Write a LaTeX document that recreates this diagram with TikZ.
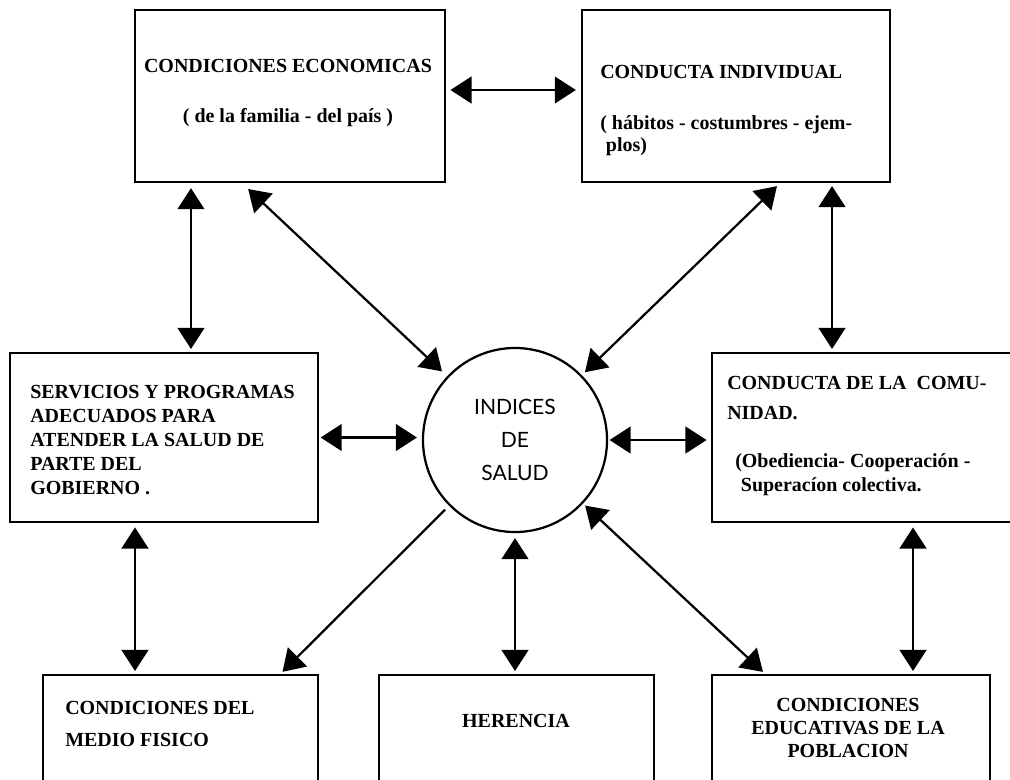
\documentclass[tikz,border=0pt]{standalone}
\usepackage{fontspec}
\setmainfont{Liberation Serif}
\newfontfamily\roundfont{Lato}
\usetikzlibrary{arrows.meta}

\tikzset{
  boxnode/.style={draw, rectangle, line width=1.7pt, inner sep=0pt},
  boxtext/.style={inner sep=0pt, align=left, font=\bfseries\fontsize{14.2}{17}\selectfont},
  twoway/.style={{Triangle[length=15pt,width=19pt]}-{Triangle[length=15pt,width=19pt]}, line width=1.6pt},
  oneway/.style={-{Triangle[length=15pt,width=19pt]}, line width=1.6pt},
}

\begin{document}
\begin{tikzpicture}[x=0.025cm,y=-0.025cm]

    \useasboundingbox (0,0) rectangle (1010,779);
    \clip (0,0) rectangle (1010,779);

    % Cajas
    \node[boxnode, minimum width=7.75cm, minimum height=4.3cm] (econ) at (290,96) {};
    \node[boxnode, minimum width=7.7cm, minimum height=4.3cm] (indiv) at (736,96) {};
    \node[boxnode, minimum width=7.7cm, minimum height=4.225cm] (serv) at (164,437.5) {};
    \node[boxnode, minimum width=7.6cm, minimum height=4.225cm] (comun) at (864,437.5) {};
    \node[boxnode, minimum width=6.875cm, minimum height=3.125cm] (medio) at (180.5,737.5) {};
    \node[boxnode, minimum width=6.875cm, minimum height=3.125cm] (heren) at (516.5,737.5) {};
    \node[boxnode, minimum width=6.95cm, minimum height=3.125cm] (educ) at (851,737.5) {};

    % Centro
    \node[draw, circle, line width=1.6pt, minimum size=4.6cm, inner sep=0pt, align=center,
          font=\roundfont\fontsize{15}{23.5}\selectfont] (salud) at (515,440) {INDICES\\DE\\SALUD};

    % Textos
    \node[boxtext, align=center, font=\bfseries\fontsize{14.2}{36}\selectfont] (econtxt) at (288,93)
        {CONDICIONES ECONOMICAS\\( de la familia - del país )};
    \node[boxtext, anchor=west] (indivtit) at (600,72) {CONDUCTA INDIVIDUAL};
    \node[boxtext, anchor=west, font=\bfseries\fontsize{14.2}{15.6}\selectfont] (indivsub) at (600,136)
        {( hábitos - costumbres - ejem-\\\hspace{4pt}plos)};
    \node[boxtext, anchor=west] (servtxt) at (30,440)
        {SERVICIOS Y PROGRAMAS\\ADECUADOS PARA\\ATENDER LA SALUD DE\\PARTE DEL\\GOBIERNO .};
    \node[boxtext, anchor=west, font=\bfseries\fontsize{14.2}{21.3}\selectfont] (comuntit) at (727,398)
        {CONDUCTA DE LA\ \ COMU-\\NIDAD.};
    \node[boxtext, anchor=west] (comunsub) at (735,475)
        {(Obediencia- Cooperación -\\\hspace{4pt}Superacíon colectiva.};
    \node[boxtext, anchor=west, font=\bfseries\fontsize{14.2}{22.8}\selectfont] (mediotxt) at (65,724)
        {CONDICIONES DEL\\MEDIO FISICO};
    \node[boxtext] (herentxt) at (516,721) {HERENCIA};
    \node[boxtext, align=center, font=\bfseries\fontsize{14.2}{16.3}\selectfont] (eductxt) at (848,728)
        {CONDICIONES\\EDUCATIVAS DE LA\\POBLACION};

    % Flechas
    \draw[twoway, shorten <=3pt, shorten >=3.5pt] ([yshift=0.15cm]econ.east) -- ([yshift=0.15cm]indiv.west);
    \draw[twoway, shorten <=3.5pt, shorten >=2pt] ([xshift=-2.475cm]econ.south) -- ([xshift=-2.475cm]econ.south |- serv.north);
    \draw[twoway, shorten <=6pt, shorten >=5pt] ([xshift=-1.2cm]econ.south) -- (salud);
    \draw[twoway, shorten <=3pt, shorten >=3pt] ([xshift=1.1cm]indiv.south) -- (salud);
    \draw[twoway, shorten <=2pt, shorten >=2pt] ([xshift=2.4cm]indiv.south) -- ([xshift=2.4cm]indiv.south |- comun.north);
    \draw[twoway, shorten <=1pt, shorten >=3.5pt] (serv.east) -- (serv.east -| salud.west);
    \draw[twoway, shorten <=1pt, shorten >=3pt] (salud.east) -- (salud.east -| comun.west);
    \draw[twoway, shorten <=3pt, shorten >=2pt] ([xshift=-0.725cm]serv.south) -- ([xshift=-0.725cm]serv.south |- medio.north);
    \draw[oneway, shorten <=4pt, shorten >=2pt] (salud) -- ([xshift=2.5cm]medio.north);
    \draw[twoway, shorten <=3.5pt, shorten >=2pt] (salud.south) -- (salud.south |- heren.north);
    \draw[twoway, shorten <=2pt, shorten >=2pt] (salud) -- ([xshift=-2.15cm]educ.north);
    \draw[twoway, shorten <=3pt, shorten >=2pt] ([xshift=1.225cm]comun.south) -- ([xshift=1.225cm]comun.south |- educ.north);

\end{tikzpicture}
\end{document}
